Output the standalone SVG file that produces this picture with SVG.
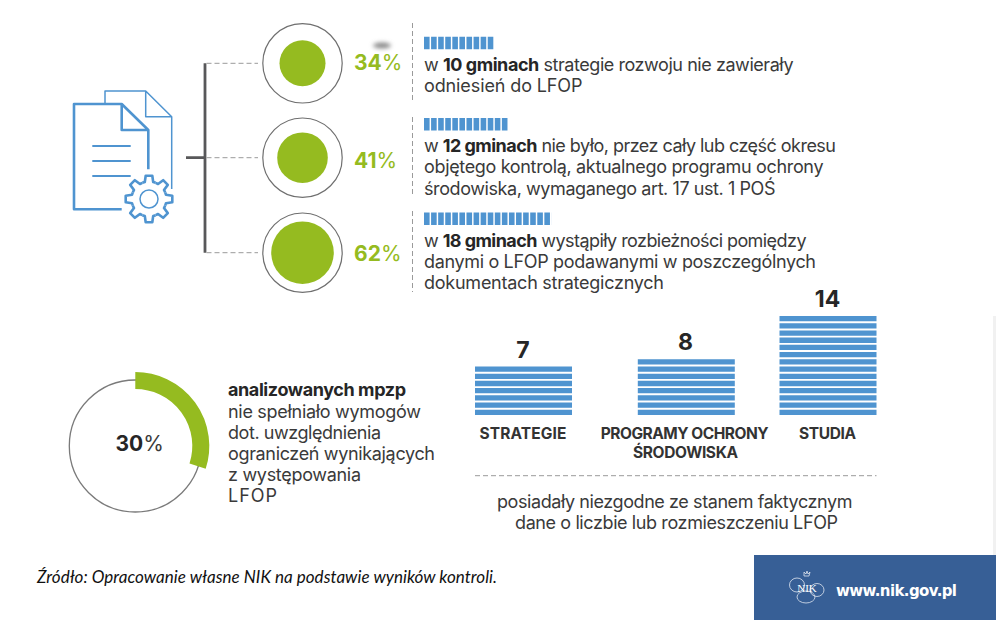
<svg xmlns="http://www.w3.org/2000/svg" xmlns:xlink="http://www.w3.org/1999/xlink" width="996" height="620" viewBox="0 0 996 620">
<style>
text{font-family:"Inter","Liberation Sans",sans-serif;fill:#3a3a3a;font-size:18px;font-weight:400}
.b{font-weight:700;fill:#262626}
.pct{font-size:21px;fill:#95bb20}
.pct .b{fill:#95bb20}
.ring{fill:#fff;stroke:#6f6f6f;stroke-width:1.2}
.dot{fill:#95bb20}
.dash{fill:none;stroke:#9a9a9a;stroke-width:1;stroke-dasharray:5 3}
.tick{fill:none;stroke:#4f94d0;stroke-width:12.5;stroke-dasharray:5.6 1.48}
.bar{fill:none;stroke:#4f94d0;stroke-width:97;stroke-dasharray:5.3 1.91}
.num{font-size:23px;font-weight:700;fill:#262626;text-anchor:middle}
.lab{font-size:15.5px;font-weight:700;fill:#333;text-anchor:middle}
.ic{fill:none;stroke:#4f94d0;stroke-linejoin:round}
.logo{fill:none;stroke:#dfe6f0;stroke-width:.8}
</style>
<defs>
<filter id="blur" x="-50%" y="-100%" width="200%" height="300%"><feGaussianBlur stdDeviation="2"/></filter>
<path id="tooth" d="M-6.7,-16.2L-4.2,-17L-3.3,-23.3L3.3,-23.3L4.2,-17L6.7,-16.2"/>
</defs>
<rect width="996" height="620" fill="#fff"/>
<rect x="993" y="316" width="3" height="240" fill="#f1f1f1"/>

<g id="connectors">
<path d="M205 63.3V252.7M186 157.7H205" fill="none" stroke="#58585a" stroke-width="2.8"/>
<path class="dash" d="M206.500 63.300H258M206.500 157.700H258M206.500 252.700H258"/>
<path class="dash" d="M412.500 23V103M412.500 117V197M412.500 211V292"/>
<path class="dash" d="M475 475.700H876.500"/>
</g>

<g id="icon-documents">
<path class="ic" stroke-width="1.5" d="M105 103V91H145.700L171.700 116.700V189M145.700 91V116.700H171.700"/>
<path class="ic" stroke-width="2.6" d="M121.700 209.300H74V104H121.700L148.300 130V169.300M121.700 104V130H148.300"/>
<path class="ic" stroke-width="1.9" d="M92.300 146H130.700M92.300 161H130.700M92.300 176H130.700"/>
<g class="ic" stroke-width="2.6" transform="translate(149 199)">
<use xlink:href="#tooth" href="#tooth"/>
<use xlink:href="#tooth" href="#tooth" transform="rotate(45)"/>
<use xlink:href="#tooth" href="#tooth" transform="rotate(90)"/>
<use xlink:href="#tooth" href="#tooth" transform="rotate(135)"/>
<use xlink:href="#tooth" href="#tooth" transform="rotate(180)"/>
<use xlink:href="#tooth" href="#tooth" transform="rotate(225)"/>
<use xlink:href="#tooth" href="#tooth" transform="rotate(270)"/>
<use xlink:href="#tooth" href="#tooth" transform="rotate(315)"/>
<circle r="9" stroke-width="1.5"/>
</g>
</g>

<g id="node-34">
<circle class="ring" cx="302.500" cy="63.300" r="39.700"/>
<circle class="dot" cx="302.500" cy="63.300" r="23"/>
<ellipse cx="382" cy="45.500" rx="9" ry="3" fill="#8a8a8a" filter="url(#blur)"/>
<text class="pct" x="354" y="70"><tspan class="b">34</tspan>%</text>
<line class="tick" x1="424" y1="43" x2="494" y2="43"/>
<text x="424" y="70.500" textLength="369.500">w <tspan class="b">10 gminach</tspan> strategie rozwoju nie zawierały</text>
<text x="424" y="91.500" textLength="158.500">odniesień do LFOP</text>
</g>

<g id="node-41">
<circle class="ring" cx="302.500" cy="157.700" r="39.700"/>
<circle class="dot" cx="302.500" cy="157.700" r="25.300"/>
<text class="pct" x="354" y="167.500"><tspan class="b">41</tspan>%</text>
<line class="tick" x1="424" y1="124.200" x2="508.500" y2="124.200"/>
<text x="424" y="152" textLength="412">w <tspan class="b">12 gminach</tspan> nie było, przez cały lub część okresu</text>
<text x="424" y="173" textLength="399.500">objętego kontrolą, aktualnego programu ochrony</text>
<text x="424" y="194.500" textLength="351.500">środowiska, wymaganego art. 17 ust. 1 POŚ</text>
</g>

<g id="node-62">
<circle class="ring" cx="302.500" cy="252.700" r="39.700"/>
<circle class="dot" cx="302.500" cy="252.700" r="31.300"/>
<text class="pct" x="354" y="261"><tspan class="b">62</tspan>%</text>
<line class="tick" x1="424" y1="218.800" x2="551.500" y2="218.800"/>
<text x="424" y="246.500" textLength="382.500">w <tspan class="b">18 gminach</tspan> wystąpiły rozbieżności pomiędzy</text>
<text x="424" y="268" textLength="392">danymi o LFOP podawanymi w poszczególnych</text>
<text x="424" y="289" textLength="240">dokumentach strategicznych</text>
</g>

<g id="node-donut">
<circle cx="135.300" cy="446" r="66" fill="none" stroke="#7a7a7a" stroke-width="1.300"/>
<path d="M135.300 380.500A65.500 65.500 0 0 1 197.600 466.200" fill="none" stroke="#95bb20" stroke-width="17"/>
<text x="115.500" y="451" style="font-size:21px"><tspan class="b">30</tspan>%</text>
<text class="b" x="228" y="395.500" textLength="178">analizowanych mpzp</text>
<text x="228" y="418" textLength="193">nie spełniało wymogów</text>
<text x="228" y="439" textLength="153">dot. uwzględnienia</text>
<text x="228" y="460" textLength="207">ograniczeń wynikających</text>
<text x="228" y="481" textLength="133">z występowania</text>
<text x="228" y="502" textLength="49">LFOP</text>
</g>

<g id="node-strategie">
<text class="num" x="523" y="358">7</text>
<line class="bar" x1="523.500" y1="415" x2="523.500" y2="366"/>
<text class="lab" x="523" y="438.500" textLength="87">STRATEGIE</text>
</g>
<g id="node-programy">
<text class="num" x="685.500" y="350">8</text>
<line class="bar" x1="686.300" y1="415" x2="686.300" y2="359"/>
<text class="lab" x="684.700" y="438.500" textLength="168">PROGRAMY OCHRONY</text>
<text class="lab" x="685.500" y="458" textLength="105">ŚRODOWISKA</text>
</g>
<g id="node-studia">
<text class="num" x="827.500" y="306.500">14</text>
<line class="bar" x1="828" y1="415" x2="828" y2="316"/>
<text class="lab" x="827.500" y="438.500" textLength="57">STUDIA</text>
</g>
<g id="caption">
<text x="497" y="507.500" textLength="355.500">posiadały niezgodne ze stanem faktycznym</text>
<text x="515" y="528.500" textLength="323">dane o liczbie lub rozmieszczeniu LFOP</text>
</g>

<text x="37" y="583" textLength="460" style="font-family:Lato,'Open Sans',sans-serif;font-style:italic;font-size:17px;fill:#111">Źródło: Opracowanie własne NIK na podstawie wyników kontroli.</text>

<g id="footer">
<rect x="754" y="555" width="242" height="65" fill="#375f96"/>
<g class="logo">
<ellipse cx="797" cy="585" rx="7.500" ry="7"/>
<ellipse cx="817" cy="590" rx="7" ry="6.500"/>
<ellipse cx="806" cy="597" rx="9" ry="6"/>
<path d="M804 576h5l1-4-2 2-1-3-1 3-2-2z"/>
</g>
<text x="807" y="592" text-anchor="middle" style="font-family:'Liberation Serif',serif;font-size:11px;fill:#fff">NIK</text>
<text x="836" y="596" textLength="121" style="font-family:'DejaVu Sans',sans-serif;font-weight:700;font-size:15px;fill:#fff">www.nik.gov.pl</text>
</g>
</svg>
